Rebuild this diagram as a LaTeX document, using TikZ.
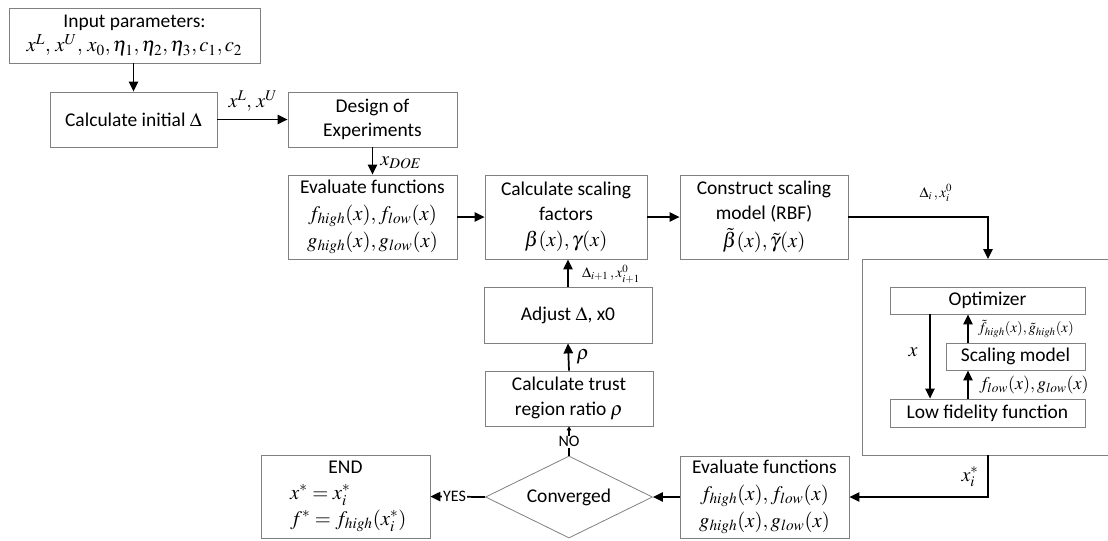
\documentclass[tikz,border=0pt]{standalone}
\usepackage{mathptmx}
\usepackage[no-math]{fontspec}
\setmainfont{Carlito}
\usetikzlibrary{shapes.geometric,arrows.meta}
\newcommand{\mth}[1]{{\fontsize{15.5}{18}\selectfont$#1$}}
\tikzset{
  box/.style={draw=black!50, line width=0.6pt, fill=white, align=center, inner sep=1pt,
    font=\fontsize{14.6}{18.5}\selectfont},
  conn/.style={line width=1.3pt, -{Triangle[length=7.5pt,width=7pt]}},
  lbl/.style={inner sep=0pt, font=\fontsize{15}{17}\selectfont},
  mlbl/.style={inner sep=0pt, font=\fontsize{13.5}{16}\selectfont},
  slbl/.style={inner sep=0pt, font=\fontsize{11}{13}\selectfont},
  yn/.style={fill=white, inner sep=0.5pt, font=\fontsize{12}{14}\selectfont},
}
\begin{document}
\begin{tikzpicture}[x=0.75pt,y=-0.75pt]
\useasboundingbox (0,0) rectangle (1108,540);
% boxes
\node[box, minimum width=251*0.75pt, minimum height=55*0.75pt] (inp) at (134.5,35.5)
  {Input parameters:\\[0pt] \mth{x^L,\,x^U,\,x_0,\eta_1,\eta_2,\eta_3,c_1,c_2}};
\node[box, minimum width=167*0.75pt, minimum height=55*0.75pt] (init) at (133.5,119.5) {Calculate initial $\Delta$};
\node[box, minimum width=169*0.75pt, minimum height=55*0.75pt] (doe) at (372.5,119.5) {Design of\\Experiments};
\node[box, minimum width=169*0.75pt, minimum height=84*0.75pt] (ev1) at (372.5,217)
  {Evaluate functions\\[1.5pt] \mth{f_{high}(x), f_{low}(x)}\\[1.5pt] \mth{g_{high}(x), g_{low}(x)}};
\node[box, minimum width=162*0.75pt, minimum height=84*0.75pt] (csf) at (566,217)
  {Calculate scaling\\factors\\[1.5pt] \mth{\beta(x),\gamma(x)}};
\node[box, minimum width=168*0.75pt, minimum height=84*0.75pt] (csm) at (764,217)
  {Construct scaling\\model (RBF)\\[2.5pt] \mth{\tilde\beta(x),\tilde\gamma(x)}};
\node[box, minimum width=168*0.75pt, minimum height=56*0.75pt] (adj) at (568,315) {Adjust $\Delta$, x0};
\node[box, minimum width=168*0.75pt, minimum height=55*0.75pt] (ctr) at (569,398.5) {Calculate trust\\region ratio $\rho$};
% big box (open on the right)
\coordinate (bigtop) at (988,259);
\coordinate (bigbot) at (988,455);
\draw[draw=black!50, line width=0.6pt] (1108,259) -- (862,259) -- (862,455) -- (1108,455);
\node[box, minimum width=195*0.75pt, minimum height=27*0.75pt] (opt) at (987.5,300.5) {Optimizer};
\node[box, minimum width=139*0.75pt, minimum height=27*0.75pt] (sm) at (1015.5,356.5) {Scaling model};
\node[box, minimum width=195*0.75pt, minimum height=28*0.75pt] (lf) at (987.5,413) {Low fidelity function};
\node[box, minimum width=169*0.75pt, minimum height=82*0.75pt] (ev2) at (764.5,497)
  {Evaluate functions\\[1.5pt] \mth{f_{high}(x), f_{low}(x)}\\[1.5pt] \mth{g_{high}(x), g_{low}(x)}};
\node[box, shape=diamond, minimum width=167*0.75pt, minimum height=82*0.75pt, inner sep=0pt, aspect=2] (conv) at (569,497) {Converged};
\node[box, minimum width=169*0.75pt, minimum height=83*0.75pt] (end) at (345.5,496.5)
  {END\\[1pt] \makebox[83pt][l]{\mth{x^* = x_i^*}}\\[1pt] \makebox[83pt][l]{\mth{f^* = f_{high}(x_i^*)}}};
% labels
\node[lbl] (lxlu) at (253,101) {$x^L,\,x^U$};
\node[lbl] (lxdoe) at (401,163) {$x_{DOE}$};
\node[slbl] (ldi) at (936,193) {$\Delta_i\,,x_i^0$};
\node[slbl] (ldi1) at (611,274) {$\Delta_{i+1}\,,x_{i+1}^0$};
\node[lbl] (lrho) at (583,357) {$\rho$};
\node[lbl] (lx) at (913,352) {$x$};
\node[slbl] (lft) at (1026,329) {$\tilde f_{high}(x),\tilde g_{high}(x)$};
\node[mlbl] (lfl) at (1034,385) {$f_{low}(x), g_{low}(x)$};
\node[lbl] (lxs) at (970,477) {$x_i^*$};
% connectors
\draw[conn] (inp.south -| init.north) -- (init.north);
\draw[conn] (init.east) -- (doe.west);
\draw[conn] (doe.south) -- (ev1.north);
\draw[conn] (ev1.east) -- (csf.west);
\draw[conn] (csf.east) -- (csm.west);
\draw[conn] (csm.east) -- (bigtop |- csm.east) -- (bigtop);
\draw[conn] (opt.south -| 930,0) -- (lf.north -| 930,0);
\draw[conn] (sm.north -| 968,0) -- (opt.south -| 968,0);
\draw[conn] (lf.north -| 968,0) -- (sm.south -| 968,0);
\draw[conn] (bigbot) -- (bigbot |- ev2.east) -- (ev2.east);
\draw[conn] (ev2.west) -- (conv.east);
\draw[line width=1.3pt, -{Triangle[length=3pt,width=3.5pt]}] (conv.north) -- node[yn, pos=0.48] {NO} (ctr.south);
\draw[conn] (ctr.north) -- (adj.south);
\draw[conn] (adj.north) -- (adj.north |- csf.south);
\draw[conn] (conv.west) -- node[yn, pos=0.56] {YES} (end.east);
\end{tikzpicture}
\end{document}
